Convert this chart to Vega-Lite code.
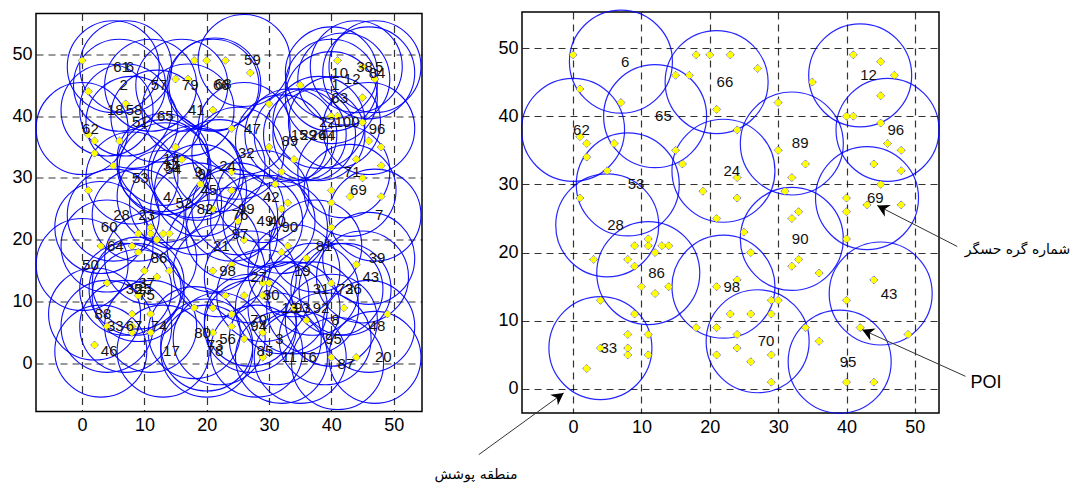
{
  "$schema": "https://vega.github.io/schema/vega-lite/v6.json",
  "padding": {"left": 11, "top": 6, "right": 2, "bottom": 0},
  "autosize": {"type": "pad"},
  "background": "#ffffff",
  "config": {
    "view": {"stroke": "#000000", "strokeWidth": 1.5},
    "axis": {"domain": false, "ticks": false, "grid": true, "gridDash": [7, 5], "gridColor": "#000000", "gridOpacity": 0.8, "gridWidth": 1.2, "labelFont": "Liberation Sans", "labelFontSize": 18, "labelColor": "#000000", "labelPadding": 5},
    "axisY": {"labelPadding": 4}
  },
  "spacing": 100,
  "bounds": "flush",
  "center": true,
  "datasets": {
    "poi": [
      {"x":0,"y":49},{"x":1,"y":44},{"x":7,"y":42},{"x":1,"y":37},{"x":2,"y":36},{"x":2,"y":34},{"x":6,"y":36},{"x":5,"y":32},{"x":1,"y":28},
      {"x":18,"y":49},{"x":20,"y":49},{"x":23,"y":49},{"x":27,"y":47},{"x":15,"y":46},{"x":17,"y":46},{"x":21,"y":41},{"x":24,"y":38},
      {"x":15,"y":35},{"x":16,"y":33},{"x":19,"y":29},{"x":24,"y":31},{"x":24,"y":28},{"x":21,"y":25},{"x":25,"y":23},
      {"x":30,"y":42},{"x":30,"y":35},{"x":34,"y":33},{"x":32,"y":31},{"x":31,"y":29},{"x":32,"y":25},{"x":33,"y":26},{"x":35,"y":45},
      {"x":41,"y":49},{"x":45,"y":48},{"x":47,"y":46},{"x":45,"y":43},{"x":40,"y":40},{"x":41,"y":40},{"x":45,"y":39},{"x":46,"y":36},
      {"x":48,"y":35},{"x":44,"y":33},{"x":48,"y":32},{"x":45,"y":30},{"x":40,"y":28},{"x":40,"y":26},{"x":43,"y":27},{"x":48,"y":27},
      {"x":40,"y":22},{"x":26,"y":20},{"x":3,"y":19},{"x":9,"y":21},{"x":11,"y":22},{"x":11,"y":21},{"x":12,"y":20},{"x":13,"y":21},
      {"x":14,"y":21},{"x":8,"y":19},{"x":9,"y":18},{"x":10,"y":15},{"x":12,"y":14},{"x":14,"y":15},{"x":4,"y":13},{"x":32,"y":18},
      {"x":33,"y":19},{"x":36,"y":17},{"x":21,"y":15},{"x":24,"y":16},{"x":29,"y":13},{"x":30,"y":13},{"x":44,"y":16},{"x":40,"y":13},
      {"x":29,"y":11},{"x":23,"y":11},{"x":26,"y":11},{"x":18,"y":9},{"x":21,"y":9},{"x":24,"y":8},{"x":24,"y":6},{"x":21,"y":5},
      {"x":26,"y":4},{"x":29,"y":5},{"x":29,"y":1},{"x":34,"y":9},{"x":36,"y":7},{"x":42,"y":9},{"x":40,"y":1},{"x":44,"y":1},
      {"x":49,"y":8},{"x":9,"y":11},{"x":8,"y":8},{"x":11,"y":8},{"x":4,"y":6},{"x":8,"y":6},{"x":8,"y":5},{"x":11,"y":5},{"x":2,"y":3}
    ],
    "left": [
      {"id":61,"x":5,"y":48},{"id":6,"x":7,"y":48},{"id":59,"x":26,"y":49},{"id":10,"x":40,"y":47},{"id":12,"x":42,"y":46},
      {"id":38,"x":44,"y":48},{"id":5,"x":47,"y":48},{"id":84,"x":46,"y":47},{"id":2,"x":6,"y":45},{"id":57,"x":11,"y":45},
      {"id":79,"x":16,"y":45},{"id":66,"x":21,"y":45},{"id":68,"x":21.3,"y":45.2},{"id":1,"x":40,"y":45},{"id":63,"x":40,"y":43},
      {"id":18,"x":4,"y":41},{"id":58,"x":7,"y":41},{"id":41,"x":17,"y":41},{"id":51,"x":8,"y":39},{"id":65,"x":12,"y":40},
      {"id":62,"x":0,"y":38},{"id":47,"x":26,"y":38},{"id":22,"x":38,"y":39},{"id":100,"x":40.5,"y":39},{"id":96,"x":46,"y":38},
      {"id":89,"x":32,"y":36},{"id":15,"x":33.5,"y":37},{"id":29,"x":35,"y":37},{"id":26,"x":36.5,"y":37},{"id":44,"x":38,"y":37},
      {"id":32,"x":25,"y":34},{"id":24,"x":22,"y":32},{"id":14,"x":13,"y":33},{"id":34,"x":13,"y":32},{"id":54,"x":13.3,"y":31.5},
      {"id":71,"x":42,"y":31},{"id":69,"x":43,"y":28},{"id":53,"x":8,"y":30},{"id":9,"x":18,"y":31},{"id":91,"x":18.5,"y":30.6},
      {"id":45,"x":19,"y":28},{"id":4,"x":13,"y":27},{"id":52,"x":15,"y":26},{"id":82,"x":18.4,"y":25},{"id":42,"x":29,"y":27},
      {"id":99,"x":25,"y":25},{"id":76,"x":24,"y":24},{"id":49,"x":28,"y":23},{"id":40,"x":30,"y":23},{"id":90,"x":32,"y":22},
      {"id":7,"x":47,"y":24},{"id":28,"x":5,"y":24},{"id":23,"x":9,"y":24},{"id":60,"x":3,"y":22},{"id":97,"x":24,"y":21},
      {"id":64,"x":4,"y":19},{"id":86,"x":11,"y":17},{"id":21,"x":21,"y":19},{"id":81,"x":37.5,"y":19},{"id":39,"x":46,"y":17},
      {"id":50,"x":0,"y":16},{"id":98,"x":22,"y":15},{"id":27,"x":27,"y":14},{"id":19,"x":34,"y":15},{"id":43,"x":45,"y":14},
      {"id":37,"x":9,"y":13},{"id":35,"x":7,"y":12},{"id":25,"x":8.5,"y":12},{"id":75,"x":9,"y":11},{"id":31,"x":37,"y":12},
      {"id":72,"x":40.9,"y":12},{"id":36,"x":42.2,"y":12},{"id":30,"x":29,"y":11},{"id":88,"x":2,"y":8},{"id":13,"x":32,"y":9},
      {"id":93,"x":34,"y":9},{"id":92,"x":37,"y":9},{"id":8,"x":40,"y":7},{"id":48,"x":46,"y":6},{"id":33,"x":4,"y":6},
      {"id":67,"x":7,"y":6},{"id":74,"x":11,"y":6},{"id":70,"x":27,"y":7},{"id":94,"x":27,"y":6},{"id":80,"x":18,"y":5},
      {"id":56,"x":22,"y":4},{"id":73,"x":20,"y":3},{"id":78,"x":20,"y":2},{"id":3,"x":31,"y":4},{"id":95,"x":39,"y":4},
      {"id":46,"x":3,"y":2},{"id":17,"x":13,"y":2},{"id":85,"x":28,"y":2},{"id":11,"x":32,"y":1},{"id":16,"x":35,"y":1},
      {"id":87,"x":41,"y":0},{"id":20,"x":47,"y":1}
    ],
    "right": [
      {"id":6,"x":7,"y":48},{"id":66,"x":21,"y":45},{"id":12,"x":42,"y":46},{"id":62,"x":0,"y":38},{"id":65,"x":12,"y":40},
      {"id":96,"x":46,"y":38},{"id":89,"x":32,"y":36},{"id":24,"x":22,"y":32},{"id":53,"x":8,"y":30},{"id":69,"x":43,"y":28},
      {"id":28,"x":5,"y":24},{"id":90,"x":32,"y":22},{"id":86,"x":11,"y":17},{"id":98,"x":22,"y":15},{"id":43,"x":45,"y":14},
      {"id":33,"x":4,"y":6},{"id":70,"x":27,"y":7},{"id":95,"x":39,"y":4}
    ],
    "arrows": [
      {"id":"node","x":44.5,"y":26.9,"x2":56.2,"y2":20.9},
      {"id":"poi","x":42.3,"y":8.7,"x2":57.4,"y2":1.86},
      {"id":"area","x":-1.38,"y":-0.59,"x2":-13.8,"y2":-9.63}
    ],
    "notes": [
      {"text":"شماره گره حسگر","x":65.0,"y":20.4},
      {"text":"POI","x":60.4,"y":0.9},
      {"text":"منطقه پوشش","x":-14.2,"y":-12.6}
    ]
  },
  "hconcat": [
    {
      "width": 386,
      "height": 398,
      "encoding": {
        "x": {"field": "x", "type": "quantitative", "scale": {"domain": [-7.4, 54.55], "nice": false, "zero": false}, "axis": {"values": [0,10,20,30,40,50], "title": null}},
        "y": {"field": "y", "type": "quantitative", "scale": {"domain": [-7.76, 56.6], "nice": false, "zero": false}, "axis": {"values": [0,10,20,30,40,50], "title": null}}
      },
      "layer": [
        {"data": {"name": "left"}, "mark": {"type": "point", "shape": "circle", "filled": false, "size": 8464, "color": "#0000ff", "strokeWidth": 1.1, "opacity": 0.95}},
        {"data": {"name": "poi"}, "mark": {"type": "point", "shape": "diamond", "filled": true, "size": 60, "fill": "#ffff00", "stroke": "#2a2aff", "strokeWidth": 0.6, "opacity": 1}},
        {"data": {"name": "poi"}, "mark": {"type": "point", "shape": "circle", "filled": true, "size": 32, "color": "#ffff00", "opacity": 1}},
        {"data": {"name": "left"}, "mark": {"type": "text", "align": "left", "baseline": "middle", "font": "Liberation Sans", "fontSize": 15, "color": "#111111"}, "encoding": {"text": {"field": "id", "type": "nominal"}}}
      ]
    },
    {
      "width": 417,
      "height": 401,
      "encoding": {
        "x": {"field": "x", "type": "quantitative", "scale": {"domain": [-7.47, 53.53], "nice": false, "zero": false}, "axis": {"values": [0,10,20,30,40,50], "title": null}},
        "y": {"field": "y", "type": "quantitative", "scale": {"domain": [-3.52, 55.28], "nice": false, "zero": false}, "axis": {"values": [0,10,20,30,40,50], "title": null}}
      },
      "layer": [
        {"data": {"name": "right"}, "mark": {"type": "point", "shape": "circle", "filled": false, "size": 10609, "color": "#0000ff", "strokeWidth": 1.2, "opacity": 0.85}},
        {"data": {"name": "poi"}, "mark": {"type": "point", "shape": "diamond", "filled": true, "size": 64, "fill": "#ffff00", "stroke": "#2a2aff", "strokeWidth": 0.6, "opacity": 1}},
        {"data": {"name": "poi"}, "mark": {"type": "point", "shape": "circle", "filled": true, "size": 34, "color": "#ffff00", "opacity": 1}},
        {"data": {"name": "right"}, "mark": {"type": "text", "align": "left", "baseline": "middle", "font": "Liberation Sans", "fontSize": 15, "color": "#111111"}, "encoding": {"text": {"field": "id", "type": "nominal"}}},
        {"data": {"name": "arrows"}, "mark": {"type": "rule", "color": "#333333", "strokeWidth": 1}, "encoding": {"x2": {"field": "x2"}, "y2": {"field": "y2"}}},
        {"data": {"name": "arrows"}, "transform": [{"filter": "datum.id === 'node'"}], "mark": {"type": "point", "shape": "M0,0 L-1,-0.55 L-0.7,0 L-1,0.55 Z", "filled": true, "size": 560, "color": "#000000", "opacity": 1, "angle": 207}},
        {"data": {"name": "arrows"}, "transform": [{"filter": "datum.id === 'poi'"}], "mark": {"type": "point", "shape": "M0,0 L-1,-0.55 L-0.7,0 L-1,0.55 Z", "filled": true, "size": 560, "color": "#000000", "opacity": 1, "angle": 204}},
        {"data": {"name": "arrows"}, "transform": [{"filter": "datum.id === 'area'"}], "mark": {"type": "point", "shape": "M0,0 L-1,-0.55 L-0.7,0 L-1,0.55 Z", "filled": true, "size": 560, "color": "#000000", "opacity": 1, "angle": 324}},
        {"data": {"name": "notes"}, "transform": [{"filter": "datum.text !== 'POI'"}], "mark": {"type": "text", "align": "center", "baseline": "middle", "font": "DejaVu Sans", "fontSize": 14, "color": "#000000"}, "encoding": {"text": {"field": "text", "type": "nominal"}}},
        {"data": {"name": "notes"}, "transform": [{"filter": "datum.text === 'POI'"}], "mark": {"type": "text", "align": "center", "baseline": "middle", "font": "Liberation Sans", "fontSize": 18, "color": "#000000"}, "encoding": {"text": {"field": "text", "type": "nominal"}}}
      ]
    }
  ]
}
